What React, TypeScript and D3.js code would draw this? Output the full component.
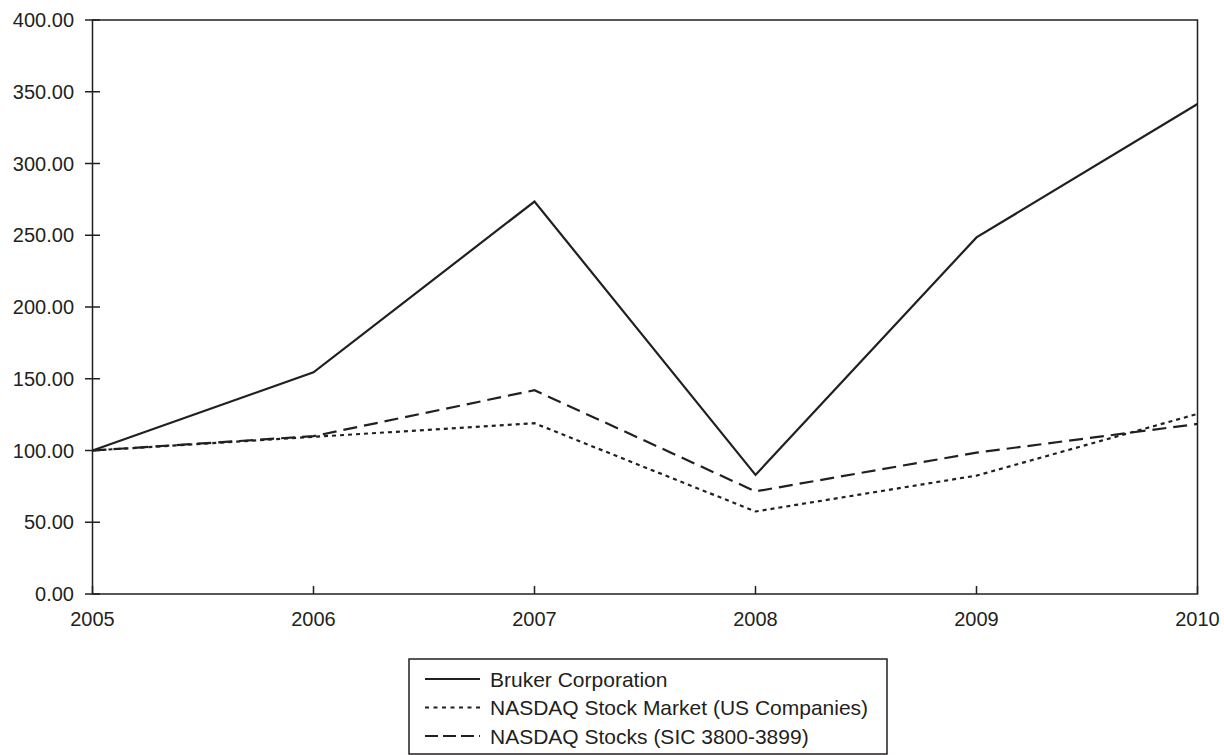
import React from "react";
import * as d3 from "d3";

const years = [2005, 2006, 2007, 2008, 2009, 2010];
const bruker = [100, 154.5, 273.5, 83, 248.5, 341.5];
const nasdaqMarket = [100, 109.5, 119, 57.5, 82.5, 125.5];
const nasdaqSic = [100, 110, 142, 71.5, 98.5, 118.5];
const yTicks = [0, 50, 100, 150, 200, 250, 300, 350, 400];
const seriesNames = [
  "Bruker Corporation",
  "NASDAQ Stock Market (US Companies)",
  "NASDAQ Stocks (SIC 3800-3899)",
];

const W = 1224;
const H = 755;
const left = 92.5;
const right = 1197.5;
const top = 20;
const bottom = 594;

export default function App() {
  const x = d3.scaleLinear().domain([2005, 2010]).range([left, right]);
  const y = d3.scaleLinear().domain([0, 400]).range([bottom, top]);
  const line = d3
    .line<number>()
    .x((_, i) => x(years[i]))
    .y((d) => y(d));

  const series = [
    { name: seriesNames[0], data: bruker, dash: "none", legDash: "none" },
    { name: seriesNames[1], data: nasdaqMarket, dash: "4,4", legDash: "4,4.5" },
    { name: seriesNames[2], data: nasdaqSic, dash: "14,7", legDash: "13,5" },
  ];
  const stroke = "#231f20";
  const font = "'Liberation Sans', Arial, sans-serif";

  const legX = 409;
  const legY = 659;
  const legW = 478;
  const legH = 95;

  return (
    <svg
      width={W}
      height={H}
      style={{ position: "absolute", left: 0, top: 0, background: "#fff" }}
      fontFamily={font}
    >
      <rect
        x={left}
        y={top}
        width={right - left}
        height={bottom - top}
        fill="none"
        stroke={stroke}
        strokeWidth={1.5}
      />
      {yTicks.map((t) => (
        <g key={t}>
          <line x1={85} x2={100} y1={y(t)} y2={y(t)} stroke={stroke} strokeWidth={1.5} />
          <text
            x={74}
            y={y(t)}
            textAnchor="end"
            dominantBaseline="central"
            fontSize={20}
            fill={stroke}
          >
            {t.toFixed(2)}
          </text>
        </g>
      ))}
      {years.map((yr) => (
        <g key={yr}>
          <line x1={x(yr)} x2={x(yr)} y1={bottom - 8} y2={bottom} stroke={stroke} strokeWidth={1.5} />
          <text
            x={x(yr)}
            y={619}
            textAnchor="middle"
            dominantBaseline="central"
            fontSize={20}
            fill={stroke}
          >
            {yr}
          </text>
        </g>
      ))}
      {series.map((s) => (
        <path
          key={s.name}
          d={line(s.data) || ""}
          fill="none"
          stroke={stroke}
          strokeWidth={2.2}
          strokeDasharray={s.dash}
          strokeLinejoin="miter"
        />
      ))}
      <rect x={legX} y={legY} width={legW} height={legH} fill="#fff" stroke={stroke} strokeWidth={1.5} />
      {series.map((s, i) => {
        const cy = legY + 20 + i * 28.5;
        return (
          <g key={s.name}>
            <line
              x1={425}
              x2={480}
              y1={cy}
              y2={cy}
              stroke={stroke}
              strokeWidth={2}
              strokeDasharray={s.legDash}
            />
            <text x={490} y={cy} dominantBaseline="central" fontSize={21} fill={stroke}>
              {s.name}
            </text>
          </g>
        );
      })}
    </svg>
  );
}
